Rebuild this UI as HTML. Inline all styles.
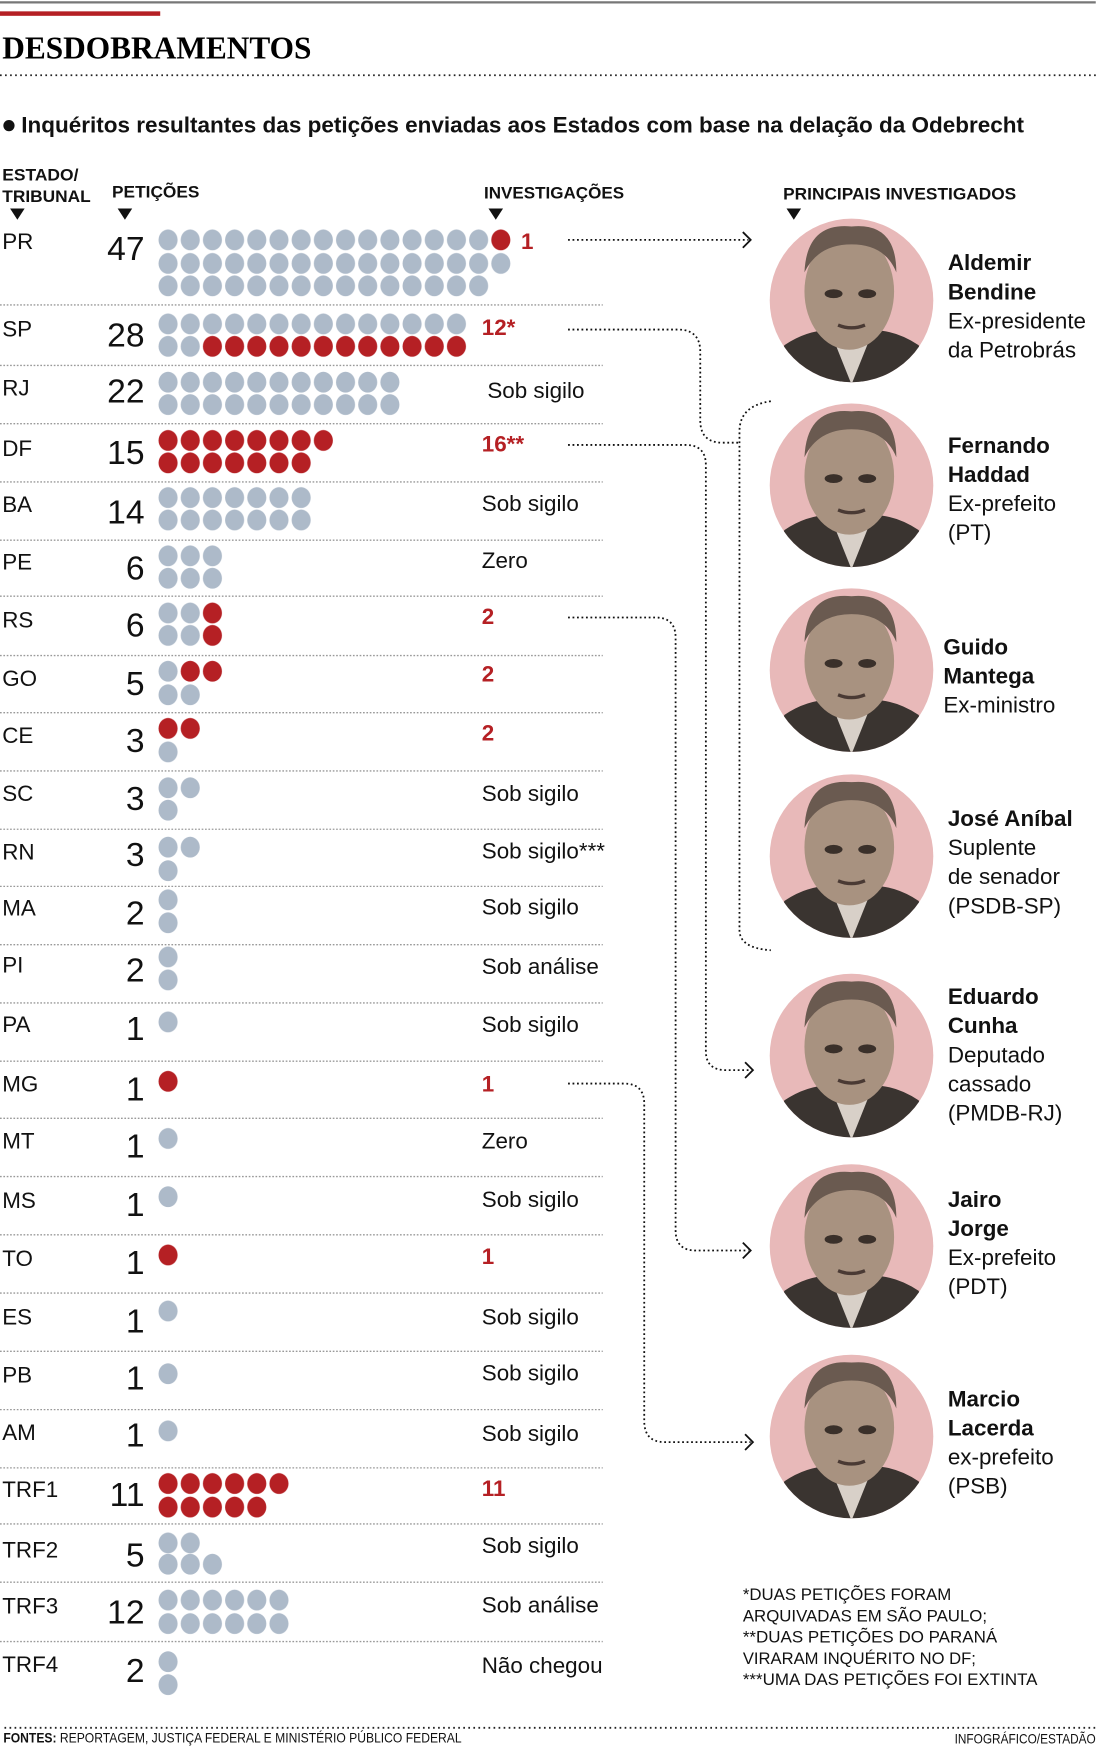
<!DOCTYPE html>
<html><head><meta charset="utf-8"><style>
html,body{margin:0;padding:0;background:#fff}
svg{display:block}
text{font-family:"Liberation Sans",sans-serif}
.lab{font-size:20px;fill:#111}
.num{font-size:30px;fill:#111;text-anchor:end}
.inv{font-size:20px;fill:#111}
.red{font-size:20px;fill:#b52024;font-weight:bold}
.hd{font-size:15px;font-weight:bold;fill:#111}
.nm{font-size:20px;font-weight:bold;fill:#111}
.ds{font-size:20px;fill:#111}
.fn{font-size:15px;fill:#111}
.sep{stroke:#999;stroke-width:1.2;stroke-dasharray:1.5 1.5}
.arr{stroke:#111;stroke-width:1.6;stroke-dasharray:1.6 2.4;fill:none}
</style></head><body>
<svg width="1098" height="1747" viewBox="0 0 980 1559" xmlns="http://www.w3.org/2000/svg">
<defs>
<pattern id="g" width="19.8" height="20.5" patternUnits="userSpaceOnUse"><ellipse cx="9" cy="10" rx="8.5" ry="9.3" fill="#adbac9"/></pattern>
<pattern id="r" width="19.8" height="20.5" patternUnits="userSpaceOnUse"><ellipse cx="9" cy="10" rx="8.5" ry="9.3" fill="#b52024"/></pattern>
<clipPath id="c0"><circle cx="0" cy="0" r="73"/></clipPath>
<g id="face">
<circle r="73" fill="#e8b9b9"/>
<g clip-path="url(#c0)">
<path d="M-70,80 L-60,40 Q-30,20 0,30 Q30,20 60,40 L70,80 Z" fill="#3a3430"/>
<path d="M-18,30 L0,75 L18,30 Z" fill="#d8d0c8"/>
<ellipse cx="-2" cy="-8" rx="40" ry="52" fill="#a89280"/>
<path d="M-42,-25 Q-40,-70 0,-66 Q40,-70 40,-25 Q30,-50 0,-50 Q-30,-50 -42,-25 Z" fill="#6a5a50"/>
<ellipse cx="-16" cy="-6" rx="8" ry="4" fill="#3a302a"/>
<ellipse cx="14" cy="-6" rx="8" ry="4" fill="#3a302a"/>
<path d="M-12,22 Q0,27 12,22" stroke="#4a3a34" stroke-width="3" fill="none"/>
</g></g>
</defs>
<line x1="0" y1="2" x2="978" y2="2" stroke="#777" stroke-width="2"/>
<rect x="0" y="10" width="143" height="4" fill="#b52024"/>
<text x="2" y="52" font-family="Liberation Serif" font-weight="bold" font-size="28" textLength="276" lengthAdjust="spacingAndGlyphs" style="font-family:'Liberation Serif',serif">DESDOBRAMENTOS</text>
<line x1="0" y1="67" x2="978" y2="67" stroke="#222" stroke-width="1.6" stroke-dasharray="1.5 3"/>
<circle cx="8" cy="112" r="5" fill="#111"/>
<text x="19" y="118" font-size="20" font-weight="bold" fill="#111" textLength="895" lengthAdjust="spacingAndGlyphs">Inquéritos resultantes das petições enviadas aos Estados com base na delação da Odebrecht</text>
<text class="hd" x="2" y="161" textLength="68" lengthAdjust="spacingAndGlyphs">ESTADO/</text>
<text class="hd" x="2" y="180" textLength="79" lengthAdjust="spacingAndGlyphs">TRIBUNAL</text>
<text class="hd" x="100" y="176" textLength="78" lengthAdjust="spacingAndGlyphs">PETIÇÕES</text>
<text class="hd" x="432" y="177" textLength="125" lengthAdjust="spacingAndGlyphs">INVESTIGAÇÕES</text>
<text class="hd" x="699" y="178" textLength="208" lengthAdjust="spacingAndGlyphs">PRINCIPAIS INVESTIGADOS</text>
<path d="M9,186h13l-6.5,10z M105,186h13l-6.5,10z M436,186h13l-6.5,10z M702,186h13l-6.5,10z" fill="#111"/>

<!-- separators -->
<g class="sep">
<line x1="0" y1="272" x2="538" y2="272"/><line x1="0" y1="326" x2="538" y2="326"/><line x1="0" y1="378" x2="538" y2="378"/><line x1="0" y1="430" x2="538" y2="430"/><line x1="0" y1="482" x2="538" y2="482"/><line x1="0" y1="532" x2="538" y2="532"/><line x1="0" y1="585" x2="538" y2="585"/><line x1="0" y1="636" x2="538" y2="636"/><line x1="0" y1="688" x2="538" y2="688"/><line x1="0" y1="740" x2="538" y2="740"/><line x1="0" y1="791" x2="538" y2="791"/><line x1="0" y1="843" x2="538" y2="843"/><line x1="0" y1="895" x2="538" y2="895"/><line x1="0" y1="947" x2="538" y2="947"/><line x1="0" y1="998" x2="538" y2="998"/><line x1="0" y1="1050" x2="538" y2="1050"/><line x1="0" y1="1102" x2="538" y2="1102"/><line x1="0" y1="1154" x2="538" y2="1154"/><line x1="0" y1="1206" x2="538" y2="1206"/><line x1="0" y1="1258" x2="538" y2="1258"/><line x1="0" y1="1310" x2="538" y2="1310"/><line x1="0" y1="1360" x2="538" y2="1360"/><line x1="0" y1="1412" x2="538" y2="1412"/><line x1="0" y1="1465" x2="538" y2="1465"/>
</g>

<!-- dots -->
<g transform="translate(141,204)"><rect width="297" height="20.5" fill="url(#g)"/><rect x="297" width="19.8" height="20.5" fill="url(#r)"/></g>
<g transform="translate(141,225)"><rect width="316.8" height="20.5" fill="url(#g)"/></g>
<g transform="translate(141,245)"><rect width="297" height="20.5" fill="url(#g)"/></g>
<g transform="translate(141,279)"><rect width="277.2" height="20.5" fill="url(#g)"/></g>
<g transform="translate(141,299)"><rect width="39.6" height="20.5" fill="url(#g)"/><rect x="39.6" width="237.6" height="20.5" fill="url(#r)"/></g>
<g transform="translate(141,331)"><rect width="217.8" height="20.5" fill="url(#g)"/></g>
<g transform="translate(141,351)"><rect width="217.8" height="20.5" fill="url(#g)"/></g>
<g transform="translate(141,383)"><rect width="158.4" height="20.5" fill="url(#r)"/></g>
<g transform="translate(141,403)"><rect width="138.6" height="20.5" fill="url(#r)"/></g>
<g transform="translate(141,434)"><rect width="138.6" height="20.5" fill="url(#g)"/></g>
<g transform="translate(141,454)"><rect width="138.6" height="20.5" fill="url(#g)"/></g>
<g transform="translate(141,486)"><rect width="59.4" height="20.5" fill="url(#g)"/></g>
<g transform="translate(141,506)"><rect width="59.4" height="20.5" fill="url(#g)"/></g>
<g transform="translate(141,537)"><rect width="39.6" height="20.5" fill="url(#g)"/><rect x="39.6" width="19.8" height="20.5" fill="url(#r)"/></g>
<g transform="translate(141,557)"><rect width="39.6" height="20.5" fill="url(#g)"/><rect x="39.6" width="19.8" height="20.5" fill="url(#r)"/></g>
<g transform="translate(141,589)"><rect width="19.8" height="20.5" fill="url(#g)"/><rect x="19.8" width="39.6" height="20.5" fill="url(#r)"/></g>
<g transform="translate(141,610)"><rect width="39.6" height="20.5" fill="url(#g)"/></g>
<g transform="translate(141,640)"><rect width="39.6" height="20.5" fill="url(#r)"/></g>
<g transform="translate(141,661)"><rect width="19.8" height="20.5" fill="url(#g)"/></g>
<g transform="translate(141,693)"><rect width="39.6" height="20.5" fill="url(#g)"/></g>
<g transform="translate(141,713)"><rect width="19.8" height="20.5" fill="url(#g)"/></g>
<g transform="translate(141,746)"><rect width="39.6" height="20.5" fill="url(#g)"/></g>
<g transform="translate(141,767)"><rect width="19.8" height="20.5" fill="url(#g)"/></g>
<g transform="translate(141,793)"><rect width="19.8" height="41" fill="url(#g)"/></g>
<g transform="translate(141,844)"><rect width="19.8" height="41" fill="url(#g)"/></g>
<g transform="translate(141,902)"><rect width="19.8" height="20.5" fill="url(#g)"/></g>
<g transform="translate(141,955)"><rect width="19.8" height="20.5" fill="url(#r)"/></g>
<g transform="translate(141,1006)"><rect width="19.8" height="20.5" fill="url(#g)"/></g>
<g transform="translate(141,1058)"><rect width="19.8" height="20.5" fill="url(#g)"/></g>
<g transform="translate(141,1110)"><rect width="19.8" height="20.5" fill="url(#r)"/></g>
<g transform="translate(141,1160)"><rect width="19.8" height="20.5" fill="url(#g)"/></g>
<g transform="translate(141,1216)"><rect width="19.8" height="20.5" fill="url(#g)"/></g>
<g transform="translate(141,1267)"><rect width="19.8" height="20.5" fill="url(#g)"/></g>
<g transform="translate(141,1314)"><rect width="118.8" height="20.5" fill="url(#r)"/></g>
<g transform="translate(141,1335)"><rect width="99" height="20.5" fill="url(#r)"/></g>
<g transform="translate(141,1367)"><rect width="39.6" height="20.5" fill="url(#g)"/></g>
<g transform="translate(141,1386)"><rect width="59.4" height="20.5" fill="url(#g)"/></g>
<g transform="translate(141,1418)"><rect width="118.8" height="20.5" fill="url(#g)"/></g>
<g transform="translate(141,1439)"><rect width="118.8" height="20.5" fill="url(#g)"/></g>
<g transform="translate(141,1473)"><rect width="19.8" height="41" fill="url(#g)"/></g>

<!-- labels -->
<g class="lab">
<text x="2" y="222">PR</text><text x="2" y="300">SP</text><text x="2" y="353">RJ</text><text x="2" y="407">DF</text><text x="2" y="457">BA</text><text x="2" y="508">PE</text><text x="2" y="560">RS</text><text x="2" y="612">GO</text><text x="2" y="663">CE</text><text x="2" y="715">SC</text><text x="2" y="767">RN</text><text x="2" y="817">MA</text><text x="2" y="868">PI</text><text x="2" y="921">PA</text><text x="2" y="974">MG</text><text x="2" y="1025">MT</text><text x="2" y="1078">MS</text><text x="2" y="1130">TO</text><text x="2" y="1182">ES</text><text x="2" y="1234">PB</text><text x="2" y="1285">AM</text><text x="2" y="1336">TRF1</text><text x="2" y="1390">TRF2</text><text x="2" y="1440">TRF3</text><text x="2" y="1492">TRF4</text>
</g>
<g class="num">
<text x="129" y="232">47</text><text x="129" y="309">28</text><text x="129" y="359">22</text><text x="129" y="414">15</text><text x="129" y="467">14</text><text x="129" y="517">6</text><text x="129" y="568">6</text><text x="129" y="620">5</text><text x="129" y="671">3</text><text x="129" y="723">3</text><text x="129" y="773">3</text><text x="129" y="825">2</text><text x="129" y="876">2</text><text x="129" y="928">1</text><text x="129" y="982">1</text><text x="129" y="1033">1</text><text x="129" y="1085">1</text><text x="129" y="1137">1</text><text x="129" y="1189">1</text><text x="129" y="1240">1</text><text x="129" y="1291">1</text><text x="129" y="1344">11</text><text x="129" y="1398">5</text><text x="129" y="1449">12</text><text x="129" y="1501">2</text>
</g>
<text class="red" x="465" y="222">1</text>
<text class="red" x="430" y="299">12*</text>
<text class="red" x="430" y="403">16**</text>
<text class="red" x="430" y="557">2</text>
<text class="red" x="430" y="608">2</text>
<text class="red" x="430" y="661">2</text>
<text class="red" x="430" y="974">1</text>
<text class="red" x="430" y="1128">1</text>
<text class="red" x="430" y="1335">11</text>
<g class="inv">
<text x="435" y="355">Sob sigilo</text><text x="430" y="456">Sob sigilo</text><text x="430" y="507">Zero</text><text x="430" y="715">Sob sigilo</text><text x="430" y="766">Sob sigilo***</text><text x="430" y="816">Sob sigilo</text><text x="430" y="869">Sob análise</text><text x="430" y="921">Sob sigilo</text><text x="430" y="1025">Zero</text><text x="430" y="1077">Sob sigilo</text><text x="430" y="1182">Sob sigilo</text><text x="430" y="1232">Sob sigilo</text><text x="430" y="1286">Sob sigilo</text><text x="430" y="1386">Sob sigilo</text><text x="430" y="1439">Sob análise</text><text x="430" y="1493">Não chegou</text>
</g>

<!-- arrows -->
<path class="arr" d="M507,214H668"/>
<path class="arr" d="M507,294H605Q625,294 625,314V375Q625,395 645,395H660"/>
<path class="arr" d="M688,358Q660,362 660,385V830Q660,846 688,848"/>
<path class="arr" d="M507,397H612Q630,397 630,415V938Q630,955 648,955H670"/>
<path class="arr" d="M507,551H585Q603,551 603,569V1098Q603,1116 621,1116H668"/>
<path class="arr" d="M507,967H557Q575,967 575,985V1268Q575,1287 593,1287H670"/>
<g fill="none" stroke="#111" stroke-width="1.6">
<path d="M663,207l7,7l-7,7"/><path d="M665,948l7,7l-7,7"/><path d="M663,1109l7,7l-7,7"/><path d="M665,1280l7,7l-7,7"/>
</g>

<!-- portraits -->
<use href="#face" x="760" y="268"/>
<use href="#face" x="760" y="433"/>
<use href="#face" x="760" y="598"/>
<use href="#face" x="760" y="764"/>
<use href="#face" x="760" y="942"/>
<use href="#face" x="760" y="1112"/>
<use href="#face" x="760" y="1282"/>

<text class="nm" x="846" y="241">Aldemir</text><text class="nm" x="846" y="267">Bendine</text>
<text class="ds" x="846" y="293">Ex-presidente</text><text class="ds" x="846" y="319">da Petrobrás</text>
<text class="nm" x="846" y="404">Fernando</text><text class="nm" x="846" y="430">Haddad</text>
<text class="ds" x="846" y="456">Ex-prefeito</text><text class="ds" x="846" y="482">(PT)</text>
<text class="nm" x="842" y="584">Guido</text><text class="nm" x="842" y="610">Mantega</text>
<text class="ds" x="842" y="636">Ex-ministro</text>
<text class="nm" x="846" y="737">José Aníbal</text>
<text class="ds" x="846" y="763">Suplente</text><text class="ds" x="846" y="789">de senador</text><text class="ds" x="846" y="815">(PSDB-SP)</text>
<text class="nm" x="846" y="896">Eduardo</text><text class="nm" x="846" y="922">Cunha</text>
<text class="ds" x="846" y="948">Deputado</text><text class="ds" x="846" y="974">cassado</text><text class="ds" x="846" y="1000">(PMDB-RJ)</text>
<text class="nm" x="846" y="1077">Jairo</text><text class="nm" x="846" y="1103">Jorge</text>
<text class="ds" x="846" y="1129">Ex-prefeito</text><text class="ds" x="846" y="1155">(PDT)</text>
<text class="nm" x="846" y="1255">Marcio</text><text class="nm" x="846" y="1281">Lacerda</text>
<text class="ds" x="846" y="1307">ex-prefeito</text><text class="ds" x="846" y="1333">(PSB)</text>

<g class="fn">
<text x="663" y="1428" textLength="186" lengthAdjust="spacingAndGlyphs">*DUAS PETIÇÕES FORAM</text>
<text x="663" y="1447" textLength="218" lengthAdjust="spacingAndGlyphs">ARQUIVADAS EM SÃO PAULO;</text>
<text x="663" y="1466" textLength="227" lengthAdjust="spacingAndGlyphs">**DUAS PETIÇÕES DO PARANÁ</text>
<text x="663" y="1485" textLength="208" lengthAdjust="spacingAndGlyphs">VIRARAM INQUÉRITO NO DF;</text>
<text x="663" y="1504" textLength="263" lengthAdjust="spacingAndGlyphs">***UMA DAS PETIÇÕES FOI EXTINTA</text>
</g>
<line x1="4" y1="1542" x2="978" y2="1542" stroke="#222" stroke-width="1.6" stroke-dasharray="1.5 3"/>
<text x="3" y="1555" font-size="12" fill="#111" textLength="409" lengthAdjust="spacingAndGlyphs"><tspan font-weight="bold">FONTES:</tspan> REPORTAGEM, JUSTIÇA FEDERAL E MINISTÉRIO PÚBLICO FEDERAL</text>
<text x="852" y="1556" font-size="12" fill="#111" textLength="126" lengthAdjust="spacingAndGlyphs">INFOGRÁFICO/ESTADÃO</text>
</svg>
</body></html>
